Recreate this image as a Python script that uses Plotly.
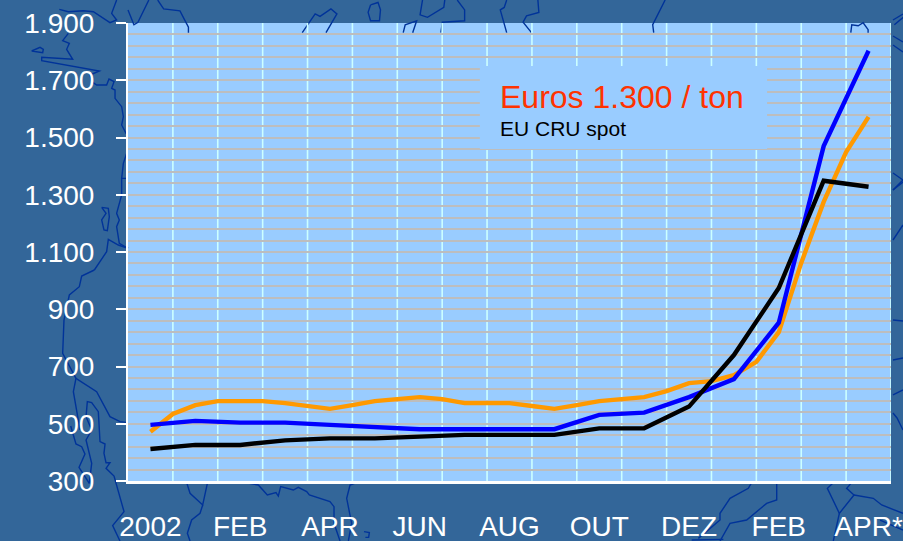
import plotly.graph_objects as go

# ---- data ----
month_index = list(range(17))
tick_positions = [0, 2, 4, 6, 8, 10, 12, 14, 16]
tick_labels = ["2002", "FEB", "APR", "JUN", "AUG", "OUT", "DEZ", "FEB", "APR*"]

blue_values = [496, 510, 504, 504, 496, 489, 481, 481, 481, 481, 531, 539, 593, 656, 853, 1470, 1803]
black_values = [412, 426, 426, 442, 449, 449, 455, 461, 461, 461, 484, 484, 560, 740, 974, 1349, 1328]

orange_index = [i / 2 for i in range(33)]
orange_values = [472, 534, 565, 579, 579, 579, 572, 562, 552, 565, 579, 586, 593, 586, 572, 572,
                 572, 562, 552, 565, 579, 586, 593, 614, 642, 649, 670, 716, 820, 1062, 1275, 1449, 1572]

title_text = "Euros 1.300 / ton"
subtitle_text = "EU CRU spot"

# ---- decorative background map outlines, in page pixels ----
def z5(pts):
    return [(x / 3, y / 3) for x, y in pts]
def z6(pts):
    return [(x / 3, 270 + y / 3) for x, y in pts]
def z7(pts):
    return [(130 + x / 3, 480 + y / 3) for x, y in pts]
def z8(pts):
    return [(520 + x / 3, 480 + y / 3) for x, y in pts]
def z9(pts):
    return [(128 + x / 2.02, y / 2.02) for x, y in pts]

map_lines = [
    z5([(178, 28), (205, 35), (250, 32), (280, 35), (330, 68), (350, 60), (335, 40), (350, 0)]),
    z5([(205, 100), (188, 122), (208, 130), (200, 148), (218, 178), (125, 172), (125, 182), (298, 213),
        (270, 225), (275, 245), (290, 255), (320, 255), (327, 237), (342, 245), (335, 265), (345, 270),
        (345, 295), (365, 320), (370, 350), (365, 375), (378, 400), (384, 400)]),
    z5([(95, 153), (120, 142), (130, 148), (128, 158), (95, 153)]),
    z5([(380, 460), (370, 490), (365, 535), (384, 535)]),
    z5([(365, 535), (365, 585), (350, 640), (358, 660), (350, 680), (358, 730), (384, 745)]),
    z5([(305, 622), (325, 625), (328, 650), (322, 692), (312, 690), (305, 660), (318, 640), (305, 622)]),
    z5([(384, 745), (355, 735), (325, 718), (320, 755), (283, 810)]),
    z6([(283, 0), (245, 18), (238, 50), (208, 75), (192, 150), (188, 250), (228, 325), (220, 365), (240, 480)]),
    z6([(228, 325), (290, 365), (330, 440), (360, 455), (384, 458)]),
    z6([(268, 640), (275, 580), (258, 510), (275, 480), (258, 440), (262, 395), (275, 398), (295, 425),
        (300, 515), (315, 522), (312, 550), (318, 578), (330, 578), (318, 595), (342, 618), (372, 725),
        (338, 767), (360, 813)]),
    z6([(212, 468), (228, 522), (245, 530), (255, 552), (237, 592), (268, 640)]),
    z7([(170, 8), (180, 40), (218, 75), (232, 10), (285, 5)]),
    z7([(218, 75), (210, 100), (185, 120), (172, 160), (180, 183)]),
    z7([(345, 8), (385, 15), (412, 45), (438, 38), (445, 48), (452, 20), (490, 30), (505, 22), (530, 35),
        (538, 45), (600, 65), (612, 80), (612, 130), (630, 183)]),
    z7([(680, 8), (660, 15), (650, 55), (665, 130), (655, 183)]),
    z7([(702, 155), (718, 158), (716, 172), (706, 172)]),
    z8([(695, 8), (685, 25), (630, 55), (600, 100), (600, 120), (535, 175)]),
    z8([(740, 8), (770, 8), (770, 60), (740, 70), (680, 120), (630, 130), (600, 183)]),
    z8([(515, 180), (610, 178)]),
    z8([(940, 8), (922, 25), (958, 100), (1002, 45), (980, 25), (995, 8)]),
    z8([(1002, 45), (1060, 55), (1085, 75), (1149, 100)]),
    z8([(958, 100), (940, 183)]),
    z9([(0, 20), (12, 50), (20, 45), (42, 0)]),
    z9([(60, 0), (72, 18), (105, 22), (122, 55), (122, 66)]),
    z9([(352, 66), (378, 28), (388, 33), (410, 18), (422, 28), (400, 66)]),
    z9([(490, 10), (505, 5), (510, 20), (508, 42), (490, 42), (485, 25), (490, 10)]),
    z9([(595, 0), (590, 30), (605, 35), (638, 15), (640, 0)]),
    z9([(665, 0), (680, 20), (680, 42), (635, 45), (632, 66)]),
    z9([(556, 66), (560, 50), (583, 42), (575, 66)]),
    z9([(765, 0), (760, 15), (752, 20), (765, 66)]),
    z9([(828, 0), (830, 25), (805, 32), (798, 45), (815, 66)]),
    z9([(1085, 0), (1060, 50), (1062, 66)]),
    z9([(1460, 66), (1462, 50), (1475, 52), (1485, 46), (1495, 60), (1495, 66)]),
    z9([(1548, 50), (1566, 35)]),
    [(893, 20), (903, 14)],
    [(893, 36), (903, 42)],
    [(893, 45), (903, 52)],
    [(893, 173), (903, 180), (893, 190)],
    [(893, 190), (903, 182)],
    [(893, 240), (903, 225)],
    [(893, 320), (903, 321)],
    [(893, 360), (903, 358)],
    [(893, 395), (903, 390)],
    [(893, 413), (897, 418), (903, 430)],
    [(880, 520), (903, 530)],
]

W, H = 903, 541
L, R, T, B = 128, 12, 23, 60

def to_path(points):
    fx = lambda x: (x - L) / (W - L - R)
    fy = lambda y: 1 - (y - T) / (H - T - B)
    return "M " + " L ".join(f"{fx(x):.4f},{fy(y):.4f}" for x, y in points)

shapes = [
    dict(type="path", xref="paper", yref="paper", path=to_path(line), layer="below",
         line=dict(color="#003399", width=1.4))
    for line in map_lines
]
# vertical separators between the months, above the horizontal grid
shapes += [
    dict(type="line", xref="x", yref="paper", x0=i + 0.5, x1=i + 0.5, y0=0, y1=1,
         layer="between", line=dict(color="#CCFFFF", width=1.6))
    for i in month_index
]
# text box hiding the grid
shapes.append(dict(type="rect", xref="x", yref="y", x0=7.34, x1=13.74, y0=1460, y1=1750,
                   fillcolor="#99CCFF", line=dict(width=0), layer="between"))

fig = go.Figure()
fig.add_trace(go.Scatter(x=orange_index, y=orange_values, mode="lines",
                         line=dict(color="#FF9900", width=4.4), hoverinfo="skip"))
fig.add_trace(go.Scatter(x=month_index, y=blue_values, mode="lines",
                         line=dict(color="#0000FF", width=4.4), hoverinfo="skip"))
fig.add_trace(go.Scatter(x=month_index, y=black_values, mode="lines",
                         line=dict(color="#000000", width=4.4), hoverinfo="skip"))

fig.update_layout(
    width=W, height=H,
    margin=dict(l=L, r=R, t=T, b=B, autoexpand=False),
    autosize=False,
    showlegend=False,
    separators=",.",
    paper_bgcolor="#336699",
    plot_bgcolor="#99CCFF",
    font=dict(family="Liberation Sans, Arial, sans-serif", color="#FFFFFF", size=28),
    xaxis=dict(
        range=[-0.5, 16.5], automargin=False,
        tickmode="array", tickvals=tick_positions, ticktext=tick_labels,
        ticks="", ticklabelstandoff=18, showgrid=False, zeroline=False,
        showline=True, linecolor="#FFFFFF", linewidth=3,
        tickfont=dict(size=28, color="#FFFFFF"),
    ),
    yaxis=dict(
        range=[300, 1900], automargin=False,
        tick0=300, dtick=200, tickformat=",d",
        ticks="outside", ticklen=10, tickwidth=2, tickcolor="#FFFFFF",
        ticklabelstandoff=16,
        showline=True, linecolor="#FFFFFF", linewidth=2,
        showgrid=True, gridcolor="#BDBDBD", gridwidth=1.6, zeroline=False,
        minor=dict(tick0=300, dtick=40, showgrid=True, gridcolor="#BDBDBD", gridwidth=1.6, ticks=""),
        tickfont=dict(size=28, color="#FFFFFF"),
    ),
    shapes=shapes,
    annotations=[
        dict(xref="paper", yref="paper", x=(498 - L) / (W - L - R), y=1 - (97 - T) / (H - T - B),
             xanchor="left", yanchor="middle", showarrow=False, text=title_text,
             font=dict(size=32, color="#FF3300")),
        dict(xref="paper", yref="paper", x=(498 - L) / (W - L - R), y=1 - (128 - T) / (H - T - B),
             xanchor="left", yanchor="middle", showarrow=False, text=subtitle_text,
             font=dict(size=21, color="#000000")),
    ],
)

fig.write_html("out.html", config={"displayModeBar": False},
               post_script="document.body.style.margin='0';document.body.style.overflow='hidden';")
